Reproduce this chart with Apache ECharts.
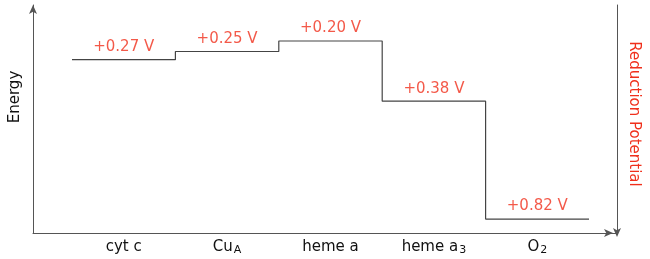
<!DOCTYPE html>
<html><head><meta charset="utf-8">
<script src="https://cdn.jsdelivr.net/npm/echarts@6/dist/echarts.min.js"></script>
<style>html,body{margin:0;padding:0;background:#fff}#c{width:650px;height:259px}</style>
</head><body><div id="c"></div>
<script>
// Data
const categories = ['cyt c', 'Cu_A', 'heme a', 'heme a_3', 'O_2'];
const energy = [76, 79.6, 84.2, 57.8, 6.1];          // relative energy level (schematic)
const potentials = [0.27, 0.25, 0.20, 0.38, 0.82];   // reduction potential, V
const yTitle = 'Energy';
const rightTitle = 'Reduction Potential';

const RED = '#F0301C';
const FONT = 'DejaVu Sans';
const AXIS = '#555';

const stepData = [];
categories.forEach((c, i) => { stepData.push([i, energy[i]], [i + 1, energy[i]]); });
const labelData = categories.map((c, i) => [i + 0.5, energy[i]]);

function fmtCat(v) {
  const p = v.split('_');
  return p.length > 1 ? '{n|' + p[0] + '}{sub|' + p[1] + '}' : '{n|' + v + '}';
}

const chart = echarts.init(document.getElementById('c'));
chart.setOption({
  animation: false,
  backgroundColor: '#fff',
  grid: [
    { left: 33, right: 33, top: 5, bottom: 26 },
    { left: 72, right: 61, top: 5, bottom: 26 }
  ],
  xAxis: [
    { gridIndex: 0, type: 'value', min: 0, max: 1,
      axisLine: { show: true, symbol: ['none', 'arrow'], symbolSize: [6, 9], symbolOffset: [0, -4], lineStyle: { color: AXIS, width: 1 } },
      axisTick: { show: false }, axisLabel: { show: false }, splitLine: { show: false } },
    { gridIndex: 1, type: 'value', min: 0, max: 5, show: false },
    { gridIndex: 1, type: 'category', data: categories, boundaryGap: true, position: 'bottom',
      axisLine: { show: false }, axisTick: { show: false },
      axisLabel: { interval: 0, margin: 5, color: '#111', fontFamily: FONT, fontSize: 15, formatter: fmtCat,
        rich: {
          n: { fontFamily: FONT, fontSize: 15, color: '#111', lineHeight: 18, verticalAlign: 'middle' },
          sub: { fontFamily: FONT, fontSize: 11, color: '#111', lineHeight: 11, verticalAlign: 'bottom', padding: [0, 0, 0, 1] }
        } } }
  ],
  yAxis: [
    { gridIndex: 0, type: 'value', min: 0, max: 1, position: 'left',
      axisLine: { show: true, symbol: ['none', 'arrow'], symbolSize: [6, 9], lineStyle: { color: AXIS, width: 1 } },
      axisTick: { show: false }, axisLabel: { show: false }, splitLine: { show: false } },
    { gridIndex: 0, type: 'value', min: 0, max: 1, position: 'right',
      axisLine: { show: true, symbol: ['arrow', 'none'], symbolSize: [6, 9], symbolOffset: [-4, 0], lineStyle: { color: AXIS, width: 1 } },
      axisTick: { show: false }, axisLabel: { show: false }, splitLine: { show: false } },
    { gridIndex: 1, type: 'value', min: 0, max: 100, show: false }
  ],
  series: [
    { type: 'line', xAxisIndex: 1, yAxisIndex: 2, data: stepData, symbol: 'none',
      lineStyle: { color: '#444', width: 1.2 } },
    { type: 'scatter', xAxisIndex: 1, yAxisIndex: 2, data: labelData, symbolSize: 0,
      label: { show: true, position: 'top', distance: 5, color: RED, fontFamily: FONT, fontSize: 15,
        formatter: p => '+' + potentials[p.dataIndex].toFixed(2) + ' V' } }
  ],
  graphic: [
    { type: 'text', x: 15, y: 97, rotation: Math.PI / 2,
      style: { text: yTitle, fill: '#111', font: '15px "DejaVu Sans"', align: 'center', verticalAlign: 'middle' } },
    { type: 'text', x: 634, y: 114, rotation: -Math.PI / 2,
      style: { text: rightTitle, fill: RED, font: '15px "DejaVu Sans"', align: 'center', verticalAlign: 'middle' } }
  ]
});
</script>
</body></html>
